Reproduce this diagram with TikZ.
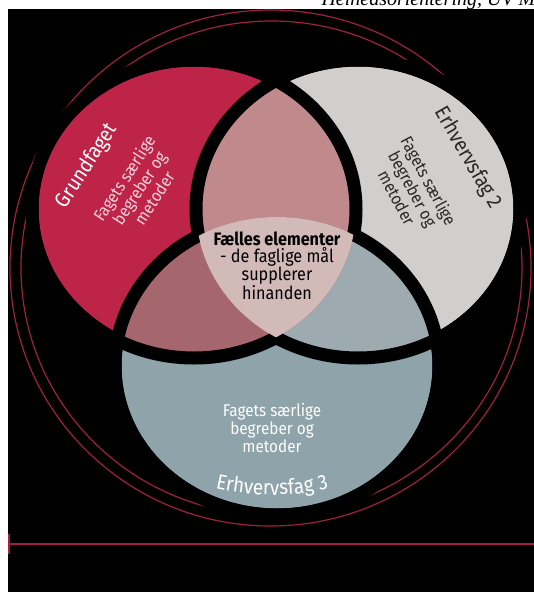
\documentclass[tikz,border=0pt]{standalone}
\usepackage{fontspec}
\setmainfont{Fira Sans}[FakeStretch=0.9]
\newfontfamily\kopffont{Liberation Serif}
\usetikzlibrary{decorations.text}
\definecolor{grundrod}{RGB}{190,35,72}
\definecolor{fagtogra}{RGB}{208,207,205}
\definecolor{fagtrebla}{RGB}{143,163,171}
\definecolor{lensop}{RGB}{192,138,140}
\definecolor{lensvenstre}{RGB}{166,102,110}
\definecolor{lenshojre}{RGB}{157,170,176}
\definecolor{midte}{RGB}{210,186,184}
\definecolor{ringrod}{RGB}{160,32,64}
\definecolor{mork}{RGB}{40,40,40}
\tikzset{
  venn/.style={x radius=162,y radius=149},
  etiket/.style={font=\fontsize{21}{21}\selectfont,inner sep=0pt},
  brodtekst/.style={font=\fontsize{17}{18}\selectfont,align=center,inner sep=0pt},
}

\begin{document}
\begin{tikzpicture}[x=1pt,y=-1pt]
\useasboundingbox (0,0) rectangle (534,592);
\clip (0,0) rectangle (534,592);
\node[anchor=base west,font=\kopffont\itshape\fontsize{20}{20}\selectfont] (kopf) at (318,5) {Helhedsorientering, UV M};
\fill[black] (8,9) rectangle (534,592);
\draw[ringrod,line width=1.2pt] (270.5,268) ellipse [x radius=260.5,y radius=258];
\draw[ringrod,line width=1.2pt] (271.5,268) ellipse [x radius=250.5,y radius=247];
\draw[ringrod,line width=1.2pt] (8,544) -- (534,544);
\draw[ringrod,line width=2pt] (9,534) -- (9,554);

\coordinate (rod) at (194,209);
\coordinate (gra) at (358,209);
\coordinate (bla) at (277,366);
\fill[grundrod] (rod) ellipse[venn];
\fill[fagtogra] (gra) ellipse[venn];
\fill[fagtrebla] (bla) ellipse[venn];
\begin{scope}
\clip (gra) ellipse[venn];
\fill[lenshojre] (bla) ellipse[venn];
\end{scope}
\begin{scope}
\clip (rod) ellipse[venn];
\fill[lensop] (gra) ellipse[venn];
\fill[lensvenstre] (bla) ellipse[venn];
\clip (gra) ellipse[venn];
\fill[midte] (bla) ellipse[venn];
\end{scope}
\foreach \a/\b in {rod/gra,rod/bla,gra/rod,gra/bla,bla/rod,bla/gra}{
  \begin{scope}[even odd rule]
  \clip (-20,-20) rectangle (600,650) (\b) ellipse[venn];
  \draw[line width=13pt] (\a) ellipse[venn];
  \end{scope}
}

\node[etiket,white,rotate=57] (grund) at (87,166) {Grundfaget};
\node[brodtekst,text=white!80!grundrod,rotate=57] (grundtekst) at (139,188) {Fagets særlige\\begreber og\\metoder};
\node[etiket,text=mork,rotate=-60] (fagto) at (468,158) {Erhvervsfag 2};
\node[brodtekst,text=mork,rotate=-62] (fagtotekst) at (413,189) {Fagets særlige\\begreber og\\metoder};
\node[brodtekst,white] (fagtretekst) at (272,428) {Fagets særlige\\begreber og\\metoder};
\node[font=\fontsize{18}{17}\selectfont,align=center,inner sep=0pt] (faelles) at (277,266) {\textbf{Fælles elementer}\\- de faglige mål\\supplerer\\hinanden};
\coordinate (bue) at (272,245);
\path[decorate,decoration={text along path,text align=center,
  text={|\fontsize{21}{21}\selectfont\color{white}|Erhvervsfag 3}}]
  (bue) ++(105:250) arc[start angle=105,end angle=75,radius=250];
\end{tikzpicture}
\end{document}
